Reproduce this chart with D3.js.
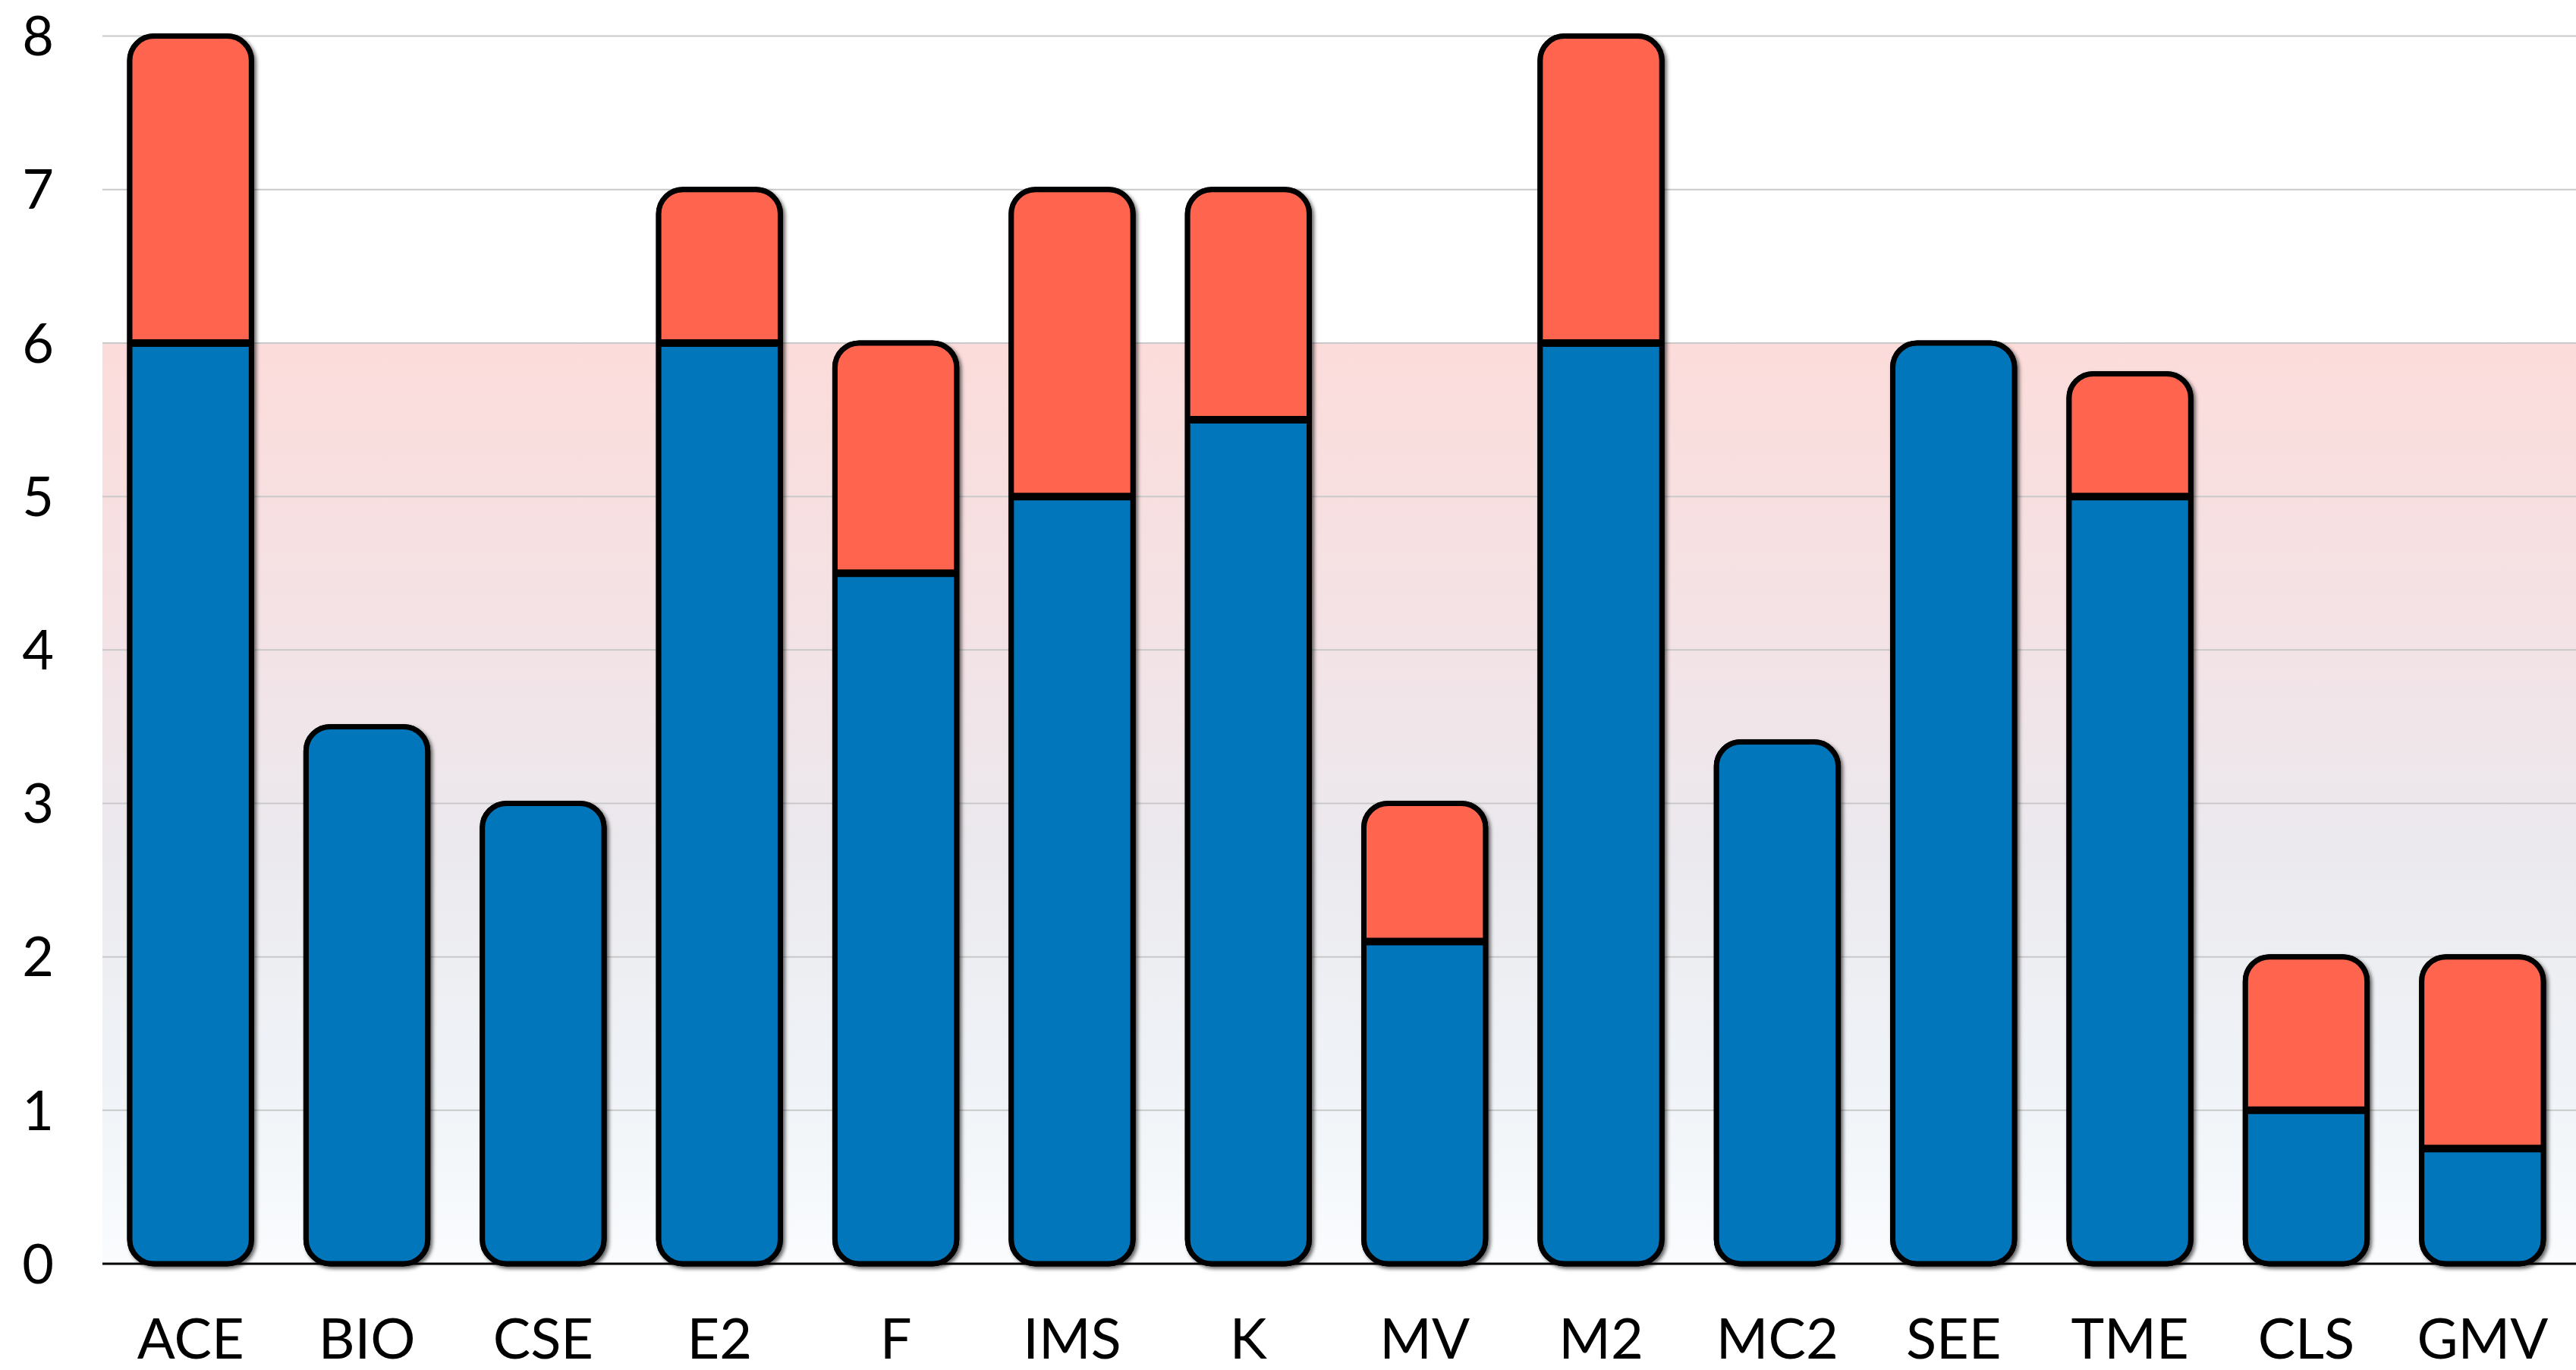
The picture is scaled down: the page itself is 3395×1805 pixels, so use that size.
<!DOCTYPE html>
<html>
<head>
<meta charset="utf-8">
<script src="https://cdn.jsdelivr.net/npm/d3@7/dist/d3.min.js"></script>
<style>
  html, body { margin: 0; padding: 0; background: #ffffff; }
  svg { display: block; }
  text { font-family: "Lato", "Open Sans", sans-serif; }
</style>
</head>
<body>
<svg id="chart" width="3395" height="1805"></svg>
<script>
// Categories along the x axis
const categories = ["ACE", "BIO", "CSE", "E2", "F", "IMS", "K", "MV", "M2", "MC2", "SEE", "TME", "CLS", "GMV"];
// Lower (blue) segment of each stacked bar
const baseValues = [6, 3.5, 3, 6, 4.5, 5, 5.5, 2.1, 6, 3.4, 6, 5, 1, 0.75];
// Upper (red) segment stacked on top of the blue one
const extraValues = [2, 0, 0, 1, 1.5, 2, 1.5, 0.9, 2, 0, 0, 0.8, 1, 1.25];
// Y axis ticks
const yTicks = [0, 1, 2, 3, 4, 5, 6, 7, 8];
// Upper bound of the shaded band behind the bars
const bandTop = 6;

const plot = { left: 135, right: 3395, top: 47.6, bottom: 1665 };

const svg = d3.select("#chart");

const x = d3.scaleBand()
  .domain(categories)
  .range([plot.left, 3388])
  .paddingInner(0.31)
  .paddingOuter(0.155);

const y = d3.scaleLinear().domain([0, 8]).range([plot.bottom, plot.top]);

const defs = svg.append("defs");

// Vertical wash: pink under the 6 line fading to a pale blue-white at 0
const grad = defs.append("linearGradient")
  .attr("id", "bandGrad").attr("x1", 0).attr("y1", 0).attr("x2", 0).attr("y2", 1);
[[0, "#fcdcdb"], [0.3, "#f4e2e5"], [0.55, "#ebe9ee"], [0.8, "#eff3f7"], [1, "#fafcfe"]]
  .forEach(([o, c]) => grad.append("stop").attr("offset", o).attr("stop-color", c));

const shadow = defs.append("filter").attr("id", "barShadow")
  .attr("x", "-10%").attr("y", "-5%").attr("width", "130%").attr("height", "115%");
shadow.append("feDropShadow")
  .attr("dx", 3).attr("dy", 3).attr("stdDeviation", 2.5)
  .attr("flood-color", "#000").attr("flood-opacity", 0.6);

svg.append("rect")
  .attr("x", plot.left).attr("width", plot.right - plot.left)
  .attr("y", y(bandTop)).attr("height", y(0) - y(bandTop))
  .attr("fill", "url(#bandGrad)");

// Horizontal grid
svg.append("g")
  .selectAll("line")
  .data(yTicks.filter(t => t > 0))
  .join("line")
  .attr("x1", plot.left).attr("x2", plot.right)
  .attr("y1", d => y(d)).attr("y2", d => y(d))
  .attr("stroke", "#c9c9c9").attr("stroke-width", 2);

// Y tick labels
const yAxis = svg.append("g")
  .attr("transform", `translate(${plot.left - 64},0)`)
  .call(d3.axisLeft(y).tickValues(yTicks).tickSize(0).tickPadding(0));
yAxis.select(".domain").remove();
yAxis.selectAll("text")
  .attr("font-family", "Lato, sans-serif")
  .attr("font-size", 72)
  .attr("dy", "0.35em")
  .attr("fill", "#000");

// X category labels
const xAxis = svg.append("g")
  .attr("transform", `translate(0,${plot.bottom})`)
  .call(d3.axisBottom(x).tickSize(0).tickPadding(0));
xAxis.select(".domain").remove();
xAxis.selectAll("text")
  .attr("font-family", "Lato, sans-serif")
  .attr("font-size", 74)
  .attr("fill", "#000")
  .attr("dy", 0)
  .attr("y", 125);

// Baseline
svg.append("line")
  .attr("x1", plot.left).attr("x2", plot.right)
  .attr("y1", y(0)).attr("y2", y(0))
  .attr("stroke", "#000").attr("stroke-width", 3);

const rows = categories.map((c, i) => ({
  cat: c, base: baseValues[i], extra: extraValues[i], total: baseValues[i] + extraValues[i]
}));

const radius = 32;
const bw = x.bandwidth();

const bars = svg.append("g").selectAll("g").data(rows).join("g");

bars.each(function (d, i) {
  const g = d3.select(this);
  const id = "clip" + i;
  defs.append("clipPath").attr("id", id)
    .append("rect")
    .attr("x", x(d.cat)).attr("width", bw)
    .attr("y", y(d.total)).attr("height", y(0) - y(d.total))
    .attr("rx", radius).attr("ry", radius);

  // shadowed silhouette drawn first so the fills sit on top of it
  g.append("rect")
    .attr("x", x(d.cat)).attr("width", bw)
    .attr("y", y(d.total)).attr("height", y(0) - y(d.total))
    .attr("rx", radius).attr("ry", radius)
    .attr("fill", "#000").attr("stroke", "#000").attr("stroke-width", 7)
    .attr("filter", "url(#barShadow)");

  const inner = g.append("g").attr("clip-path", `url(#${id})`);
  inner.append("rect")
    .attr("x", x(d.cat)).attr("width", bw)
    .attr("y", y(d.base)).attr("height", y(0) - y(d.base))
    .attr("fill", "#0176ba");
  if (d.extra > 0) {
    inner.append("rect")
      .attr("x", x(d.cat)).attr("width", bw)
      .attr("y", y(d.total)).attr("height", y(d.base) - y(d.total))
      .attr("fill", "#fe644e");
    g.append("line")
      .attr("x1", x(d.cat)).attr("x2", x(d.cat) + bw)
      .attr("y1", y(d.base)).attr("y2", y(d.base))
      .attr("stroke", "#000").attr("stroke-width", 10);
  }

  g.append("rect")
    .attr("x", x(d.cat)).attr("width", bw)
    .attr("y", y(d.total)).attr("height", y(0) - y(d.total))
    .attr("rx", radius).attr("ry", radius)
    .attr("fill", "none").attr("stroke", "#000").attr("stroke-width", 7);
});
</script>
</body>
</html>
